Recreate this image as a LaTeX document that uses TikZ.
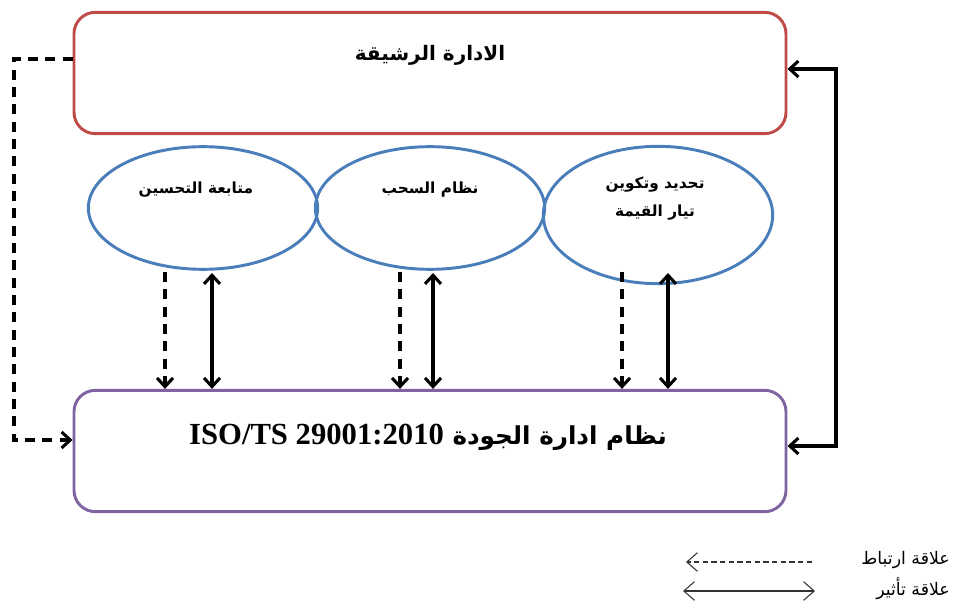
\documentclass[tikz,border=0pt]{standalone}
\usepackage{fontspec}
\usetikzlibrary{arrows.meta,shapes.geometric}
\TeXXeTstate=1
\newfontfamily\arabicfont[Script=Arabic]{DejaVu Sans}
\newfontfamily\latinserif{Liberation Serif}
\definecolor{boxred}{HTML}{BE4B48}
\definecolor{boxpurple}{HTML}{8064A2}
\definecolor{ellblue}{HTML}{4A7EBB}
\tikzset{
  px/.style={x=0.75pt,y=-0.75pt},
  bigbox/.style={draw, rounded corners=16pt, line width=2.2pt, minimum width=534pt, minimum height=91pt, inner sep=0pt},
  ellnode/.style={ellipse, draw=ellblue, line width=2.2pt, minimum width=172pt, inner sep=0pt},
  lbl/.style={inner sep=0pt, font=\arabicfont\bfseries, align=center},
  thick conn/.style={line width=2.3pt, draw=black},
  barb/.tip={Straight Barb[length=6.5pt,width=12pt,line width=2.3pt]},
  dashconn/.style={thick conn, dash pattern=on 7.5pt off 5.5pt},
  legline/.style={line width=0.8pt, draw=black!80},
  legbarb/.tip={Straight Barb[length=8pt,width=14pt,line width=0.8pt]},
  ellfont/.style={font=\arabicfont\bfseries\fontsize{11.5}{21}\selectfont},
  legfont/.style={inner sep=0pt, anchor=east, font=\arabicfont\fontsize{13}{15}\selectfont}
}
\begin{document}
\begin{tikzpicture}[px]
\useasboundingbox (0,0) rectangle (955,605);
% boxes
\node[bigbox, draw=boxred] (top) at (430,73) {};
\node[lbl, font=\arabicfont\bfseries\fontsize{15}{18}\selectfont] (toptext) at (430,55) {\beginR الادارة الرشيقة\endR};
\node[bigbox, draw=boxpurple] (bot) at (430,451) {};
\node[lbl, font=\bfseries\fontsize{18.5}{22}\selectfont] (bottext) at (428,437) {\arabicfont\beginR نظام ادارة الجودة {\latinserif\bfseries\fontsize{23}{26}\selectfont\beginL ISO/TS 29001:2010\endL}\endR};
% ellipses
\node[ellnode, minimum height=92pt] (e1) at (203,208) {};
\node[ellnode, minimum height=92pt] (e2) at (430,208) {};
\node[ellnode, minimum height=103pt] (e3) at (658,215) {};
\node[lbl, ellfont] (t1) at (196,190) {\beginR متابعة التحسين\endR};
\node[lbl, ellfont] (t2) at (430,190) {\beginR نظام السحب\endR};
\node[lbl, ellfont] (t3) at (655,199) {\beginR تحديد وتكوين\endR\\\beginR تيار القيمة\endR};
% vertical connectors
\coordinate (d1) at (165,272); \coordinate (s1) at (212,273);
\coordinate (d2) at (400,272); \coordinate (s2) at (433,273);
\coordinate (d3) at (622,272); \coordinate (s3) at (668,273);
\foreach \d in {d1,d2,d3}{
  \draw[dashconn, -{barb}] (\d) -- (\d |- bot.north);
}
\foreach \s in {s1,s2,s3}{
  \draw[thick conn, {barb}-{barb}] (\s) -- (\s |- bot.north);
}
% left dashed loop
\coordinate (lt) at (14,59);
\coordinate (lb) at (14,440);
\draw[dashconn, -{barb}] (lt -| top.west) -- (lt) -- (lb) -- (lb -| bot.west);
% right solid loop
\coordinate (rt) at (836,69);
\coordinate (rb) at (836,446);
\draw[thick conn, {barb}-{barb}] (rt -| top.east) -- (rt) -- (rb) -- (rb -| bot.east);
% legend
\node[legfont] (leg1) at (950,560) {\beginR علاقة ارتباط\endR};
\node[legfont] (leg2) at (950,589) {\beginR علاقة تأثير\endR};
\coordinate (l1a) at (812,562); \coordinate (l1b) at (686,562);
\coordinate (l2a) at (683,591); \coordinate (l2b) at (815,591);
\draw[legline, dash pattern=on 4pt off 2.5pt, -{legbarb}] (l1a) -- (l1b);
\draw[legline, {legbarb}-{legbarb}] (l2a) -- (l2b);
\end{tikzpicture}
\end{document}
